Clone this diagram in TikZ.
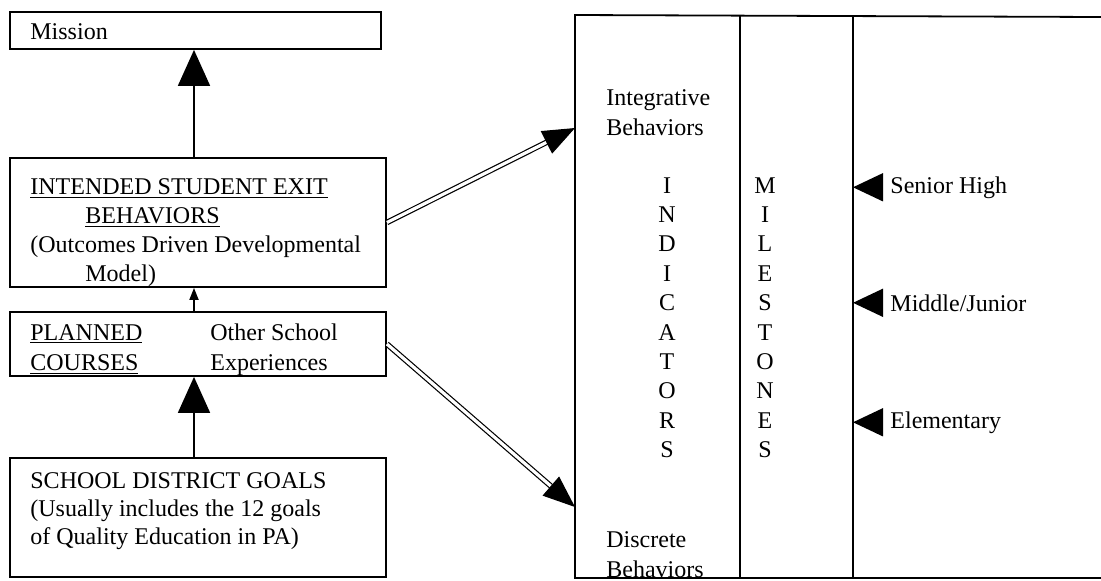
\documentclass[tikz,border=0pt]{standalone}
\usepackage{fontspec}
\setmainfont{Liberation Serif}
\usetikzlibrary{arrows.meta,fit}

\tikzset{
  box/.style={draw, line width=0.9pt, rectangle, inner sep=0pt},
  txt/.style={anchor=base west, inner sep=0pt, align=left},
  col/.style={anchor=base, inner sep=0pt, align=center},
  upbig/.style={line width=0.9pt, -{Triangle[length=18pt,width=16pt]}},
  upsmall/.style={line width=0.9pt, -{Triangle[length=6pt,width=4.5pt]}},
  dblarrow/.style={double, double distance=1.6pt, line width=0.6pt,
    -{Triangle[length=16pt,width=12.5pt]}},
  msarrow/.style={line width=0.8pt, -{Triangle[length=15pt,width=14pt]}},
  frame/.style={line width=0.9pt}
}

\begin{document}
\begin{tikzpicture}[x=0.5pt,y=-0.5pt,
    font=\fontsize{12}{14.4}\selectfont]
      \useasboundingbox (0,0) rectangle (1101,580);
      \node[box, fit={(10,12) (381,49)}] (mission) {};
      \node[box, fit={(10,158) (386,287)}] (iseb) {};
      \node[box, fit={(10,312) (386,376)}] (planned) {};
      \node[box, fit={(10,458) (386,577)}] (goals) {};
      \coordinate (stem) at (194,0);
      \node[txt] (missiontxt) at (30,39) {Mission};
      \node[txt] (isebtxt) at (30,281)
        {\underline{INTENDED STUDENT EXIT}\\
         \hspace*{27.5pt}\underline{BEHAVIORS}\\
         (Outcomes Driven Developmental\\
         \hspace*{27.5pt}Model)};
      \node[txt, font=\fontsize{12}{15}\selectfont] (coursestxt) at (30,370)
        {\underline{PLANNED}\\\underline{COURSES}};
      \node[txt, font=\fontsize{12}{15}\selectfont] (othertxt) at (210,370)
        {Other School\\Experiences};
      \node[txt, font=\fontsize{12}{14}\selectfont] (goalstxt) at (30,544)
        {SCHOOL DISTRICT GOALS\\
         (Usually includes the 12 goals\\
         of Quality Education in PA)};
      \draw[frame] (1101,17) -- (575,15) -- (575,578) -- (1101,578);
      \draw[frame] (740,15) -- (740,578);
      \draw[frame] (853,15) -- (853,578);
      \coordinate (intb) at (575,128);
      \coordinate (discb) at (575,507);
      \coordinate (mdiv) at (853,0);
      \node[txt, font=\fontsize{12}{15}\selectfont] (integr) at (606,135)
        {Integrative\\Behaviors};
      \node[txt, font=\fontsize{12}{15}\selectfont] (discr) at (606,577)
        {Discrete\\Behaviors};
      \node[col, font=\fontsize{12}{14.7}\selectfont] (indic) at (667,457.6)
        {I\\N\\D\\I\\C\\A\\T\\O\\R\\S};
      \node[col, font=\fontsize{12}{14.7}\selectfont] (miles) at (765,457.6)
        {M\\I\\L\\E\\S\\T\\O\\N\\E\\S};
      \node[txt] (senior) at (890,193) {Senior High};
      \node[txt] (middle) at (890,311) {Middle/Junior};
      \node[txt] (elem) at (890,428) {Elementary};
      \begin{scope}
        \draw[upbig] (iseb.north -| stem) -- (mission.south -| stem);
        \draw[upsmall] (planned.north -| stem) -- (iseb.south -| stem);
        \draw[upbig] (goals.north -| stem) -- (planned.south -| stem);
        \draw[dblarrow] (iseb.east) -- (intb);
        \draw[dblarrow] (planned.east) -- (discb);
        \draw[msarrow] ([xshift=-4pt]senior.west) -- (senior.west -| mdiv);
        \draw[msarrow] ([xshift=-4pt]middle.west) -- (middle.west -| mdiv);
        \draw[msarrow] ([xshift=-4pt]elem.west) -- (elem.west -| mdiv);
      \end{scope}
    \end{tikzpicture}
\end{document}
